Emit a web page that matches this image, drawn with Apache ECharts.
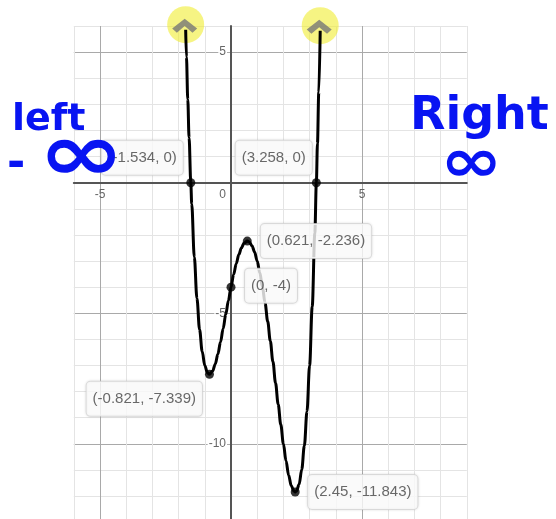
<!DOCTYPE html>
<html>
<head>
<meta charset="utf-8">
<style>
  html, body { margin: 0; padding: 0; background: #fff; }
  #chart { width: 556px; height: 519px; }
</style>
<script src="https://cdn.jsdelivr.net/npm/echarts@6/dist/echarts.min.js"></script>
</head>
<body>
<div id="chart"></div>
<script>
// Sampled points of the quartic curve
const curveX = [-1.73, -1.7, -1.65, -1.6, -1.534, -1.5, -1.4, -1.3, -1.2, -1.1, -1.0, -0.9, -0.821, -0.7, -0.6, -0.5, -0.4, -0.3, -0.2, -0.1, 0, 0.1, 0.2, 0.3, 0.4, 0.5, 0.621, 0.7, 0.8, 0.9, 1.0, 1.1, 1.2, 1.3, 1.4, 1.5, 1.6, 1.7, 1.8, 1.9, 2.0, 2.1, 2.2, 2.3, 2.4, 2.45, 2.5, 2.6, 2.7, 2.8, 2.9, 3.0, 3.1, 3.2, 3.258, 3.3, 3.35, 3.405];
const curveY = [5.86, 4.81, 3.19, 1.72, 0, -0.81, -2.85, -4.43, -5.62, -6.46, -7.0, -7.28, -7.339, -7.21, -6.94, -6.56, -6.10, -5.59, -5.05, -4.52, -4, -3.52, -3.10, -2.75, -2.49, -2.31, -2.236, -2.27, -2.41, -2.65, -3.0, -3.45, -3.99, -4.61, -5.31, -6.06, -6.85, -7.67, -8.48, -9.26, -10.0, -10.65, -11.20, -11.60, -11.81, -11.843, -11.81, -11.55, -10.98, -10.07, -8.76, -7.0, -4.74, -1.93, 0, 1.50, 3.46, 5.82];

// Roots, intercept and turning points
const keyX = [-1.534, 3.258, 0.621, 0, -0.821, 2.45];
const keyY = [0, 0, -2.236, -4, -7.339, -11.843];

// Axis tick labels that are printed
const xTickLabels = [-5, 0, 5];
const yTickLabels = [5, -5, -10];

const FONT = 'Liberation Sans, Arial, sans-serif';
const DOT = 9;

// Plot window
const X_MIN = -6, X_MAX = 9, Y_MIN = -13, Y_MAX = 6;
const W = 556, H = 519;
const GRID = { left: 73.8, right: 89.2, top: 26, bottom: -3.2 };
const pxPerX = (W - GRID.left - GRID.right) / (X_MAX - X_MIN);
const pxPerY = (H - GRID.top - GRID.bottom) / (Y_MAX - Y_MIN);

// grid line colours: every fifth line is darker (cycled from the first tick)
const MINOR = '#e4e4e4', MAJOR = '#a9a9a9';
function cycleColours(min) {
  const out = [];
  for (let k = 0; k < 5; k++) out.push(((min + k) % 5 + 5) % 5 === 0 ? MAJOR : MINOR);
  return out;
}

// label placement: offset (px) of the box corner from the dot centre
function labelAt(dx, dy, align, vAlign) {
  return {
    position: [dx + DOT / 2, dy + DOT / 2],
    align: align,
    verticalAlign: vAlign
  };
}
const labelPlacement = [
  labelAt(-8, -8, 'right', 'bottom'),
  labelAt(-4.5, -8, 'right', 'bottom'),
  labelAt(13.5, 0, 'left', 'middle'),
  labelAt(14, -1.5, 'left', 'middle'),
  labelAt(-7.5, 7.5, 'right', 'top'),
  labelAt(13, 0, 'left', 'middle')
];

const curveData = curveX.map((x, i) => [x, curveY[i]]);
const ends = [curveData[0], curveData[curveData.length - 1]];

const keyData = keyX.map((x, i) => ({
  value: [x, keyY[i]],
  label: Object.assign({ formatter: '(' + x + ', ' + keyY[i] + ')' }, labelPlacement[i])
}));

const chart = echarts.init(document.getElementById('chart'), null, { renderer: 'canvas' });

chart.setOption({
  animation: false,
  backgroundColor: '#fff',
  grid: Object.assign({ containLabel: false, outerBoundsMode: 'none' }, GRID),
  xAxis: {
    type: 'value', min: X_MIN, max: X_MAX, interval: 1,
    position: 'bottom', offset: -(0 - Y_MIN) * pxPerY,
    axisLine: { onZero: false, lineStyle: { color: '#555', width: 2 } },
    axisTick: { show: false },
    splitLine: { show: true, showMinLine: true, showMaxLine: true, lineStyle: { color: cycleColours(X_MIN), width: 1 } },
    axisLabel: {
      margin: 6, color: '#666', fontSize: 12, fontFamily: FONT,
      showMinLabel: true, showMaxLabel: true,
      formatter: v => (xTickLabels.indexOf(v) < 0 ? '' : (v === 0 ? '{z|0}' : String(v))),
      rich: { z: { padding: [0, 17, 0, 0], color: '#666', fontSize: 12, fontFamily: FONT } }
    }
  },
  yAxis: {
    type: 'value', min: Y_MIN, max: Y_MAX, interval: 1,
    position: 'left', offset: -(0 - X_MIN) * pxPerX,
    axisLine: { onZero: false, lineStyle: { color: '#555', width: 2 } },
    axisTick: { show: false },
    splitLine: { show: true, showMinLine: true, showMaxLine: true, lineStyle: { color: cycleColours(Y_MIN), width: 1 } },
    axisLabel: {
      margin: 4, color: '#666', fontSize: 12, fontFamily: FONT,
      backgroundColor: '#fff', padding: [0, 1],
      formatter: v => (yTickLabels.indexOf(v) < 0 ? '' : String(v))
    }
  },
  series: [
    {
      // highlight behind the curve ends
      type: 'scatter', data: ends, z: 2, silent: true,
      symbol: 'circle', symbolSize: 37, symbolOffset: [0, -5],
      itemStyle: { color: 'rgba(240, 236, 40, 0.72)' }
    },
    {
      type: 'line', data: curveData, z: 3,
      smooth: 0.35, smoothMonotone: 'x',
      showSymbol: false, clip: false,
      lineStyle: { color: '#000', width: 3 }
    },
    {
      // arrowheads at the ends of the curve
      type: 'scatter', data: ends, z: 4, silent: true,
      symbol: 'path://M12,0 L24,10.5 L19.5,15 L12,8 L4.5,15 L0,10.5 Z',
      symbolSize: [25, 14], symbolOffset: [-1, -4],
      itemStyle: { color: '#777' }
    },
    {
      type: 'scatter', data: keyData, z: 5,
      symbol: 'circle', symbolSize: DOT,
      itemStyle: { color: '#000' },
      label: {
        show: true,
        color: '#444', fontSize: 15, fontFamily: FONT, lineHeight: 16,
        backgroundColor: '#fff', borderColor: '#dcdcdc', borderWidth: 1, borderRadius: 4,
        padding: [9, 6],
        shadowColor: 'rgba(0,0,0,0.12)', shadowBlur: 3
      }
    }
  ],
  graphic: [
    { type: 'text', left: 12, top: 101, z: 10, style: { text: 'left', fill: '#0814f2', font: 'bold 38px "DejaVu Sans"' } },
    { type: 'text', left: 7, top: 144, z: 10, style: { text: '-', fill: '#0814f2', font: 'bold 44px "DejaVu Sans"' } },
    { type: 'text', left: 38, top: 119, z: 10, scaleX: 1.3, style: { text: '∞', fill: '#0814f2', font: 'bold 80px "DejaVu Sans"' } },
    { type: 'text', left: 410, top: 94, z: 10, style: { text: 'Right', fill: '#0814f2', font: 'bold 46px "DejaVu Sans"' } },
    { type: 'text', left: 440, top: 135, z: 10, scaleX: 1.25, style: { text: '∞', fill: '#0814f2', font: 'bold 60px "DejaVu Sans"' } }
  ]
});
</script>
</body>
</html>
